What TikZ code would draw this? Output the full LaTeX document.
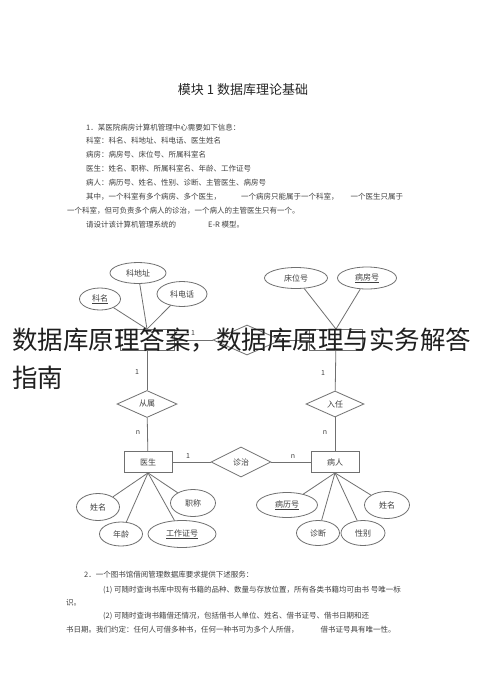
\documentclass[tikz,border=0pt]{standalone}
\usepackage{fontspec}
\setmainfont{Noto Sans CJK SC}
\usetikzlibrary{shapes.geometric}
\definecolor{ln}{HTML}{707070}
\definecolor{tx}{HTML}{404040}
\tikzset{
  body/.style={anchor=west,inner sep=0pt,text=tx,font=\fontsize{7.5}{9}\selectfont},
  attr/.style={ellipse,draw=ln,line width=0.8pt,inner sep=0pt,text=tx,font=\fontsize{8}{9}\selectfont},
  ent/.style={rectangle,draw=ln,line width=0.8pt,inner sep=0pt,minimum width=48pt,minimum height=21pt,text=tx,font=\fontsize{8}{9}\selectfont},
  rel/.style={diamond,draw=ln,line width=0.8pt,inner sep=0pt,text=tx,font=\fontsize{8}{9}\selectfont},
  conn/.style={draw=ln,line width=0.8pt},
  card/.style={inner sep=0pt,text=tx,font=\fontsize{7}{8}\selectfont},
  over/.style={anchor=west,inner sep=0pt,text=black!88,font=\fontsize{25.5}{30}\selectfont}
}
\begin{document}
\begin{tikzpicture}[x=1pt,y=-1pt]
\useasboundingbox[fill=white] (0,0) rectangle (490,697);
% title
\node[inner sep=0pt,text=black!85,font=\fontsize{13}{15}\selectfont] (title) at (243,90) {模块 1 数据库理论基础};
% question 1
\node[body] (q1) at (86,128) {1．某医院病房计算机管理中心需要如下信息：};
\node[body] (q2) at (86,141) {科室：科名、科地址、科电话、医生姓名};
\node[body] (q3) at (86,155) {病房：病房号、床位号、所属科室名};
\node[body] (q4) at (86,169) {医生：姓名、职称、所属科室名、年龄、工作证号};
\node[body] (q5) at (86,183) {病人：病历号、姓名、性别、诊断、主管医生、病房号};
\node[body] (q6) at (86,197) {其中，一个科室有多个病房、多个医生，\hspace{20pt}一个病房只能属于一个科室，\hspace{12pt}一个医生只属于};
\node[body] (q7) at (67,211) {一个科室，但可负责多个病人的诊治，一个病人的主管医生只有一个。};
\node[body] (q8) at (86,225) {请设计该计算机管理系统的\hspace{32pt}E-R 模型。};
% ER diagram: top attributes
\node[attr,minimum width=56pt,minimum height=21pt] (kdz) at (138,273) {科地址};
\node[attr,minimum width=41pt,minimum height=22pt] (km) at (100,299) {\underline{科名}};
\node[attr,minimum width=50pt,minimum height=25pt] (kdh) at (182,294) {科电话};
\node[attr,minimum width=63pt,minimum height=21pt] (cwh) at (296,278) {床位号};
\node[attr,minimum width=59pt,minimum height=22pt] (bfh) at (367,278) {\underline{病房号}};
% entities
\node[ent,minimum width=54pt] (ks) at (147,340) {};
\node[ent,minimum width=53pt] (bf) at (336,340) {};
\node[rel,minimum width=68pt,minimum height=30pt] (ksbf) at (247,340) {};
\node[rel,minimum width=60pt,minimum height=27pt] (cs) at (147,404) {从属};
\node[rel,minimum width=58pt,minimum height=26pt] (rz) at (335,404) {入任};
\node[ent] (ys) at (148,462) {医生};
\node[ent] (br) at (335,462) {病人};
\node[rel,minimum width=60pt,minimum height=30pt] (zz) at (241,462) {诊治};
% bottom attributes
\node[attr,minimum width=43pt,minimum height=27pt] (xm1) at (98,507) {姓名};
\node[attr,minimum width=43pt,minimum height=24pt] (nl) at (121,534) {年龄};
\node[attr,minimum width=68pt,minimum height=27pt] (gzzh) at (182,534) {\underline{工作证号}};
\node[attr,minimum width=45pt,minimum height=27pt] (zc) at (193,503) {职称};
\node[attr,minimum width=61pt,minimum height=25pt] (blh) at (287,505) {\underline{病历号}};
\node[attr,minimum width=43pt,minimum height=25pt] (zd) at (318,533) {诊断};
\node[attr,minimum width=44pt,minimum height=25pt] (xb) at (363,533) {性别};
\node[attr,minimum width=45pt,minimum height=27pt] (xm2) at (387,505) {姓名};
% connectors
\draw[conn] (kdz) -- (ks.north);
\draw[conn] (km) -- (ks.north);
\draw[conn] (kdh) -- (ks.north);
\draw[conn] (cwh) -- (bf.north);
\draw[conn] (bfh) -- (bf.north);
\draw[conn] (ks) -- (ksbf);
\draw[conn] (ksbf) -- (bf);
\draw[conn] (ks) -- (cs);
\draw[conn] (cs) -- (ys);
\draw[conn] (bf) -- (rz);
\draw[conn] (rz) -- (br);
\draw[conn] (ys) -- (zz);
\draw[conn] (zz) -- (br);
\draw[conn] (ys.south) -- (xm1);
\draw[conn] (ys.south) -- (nl);
\draw[conn] (ys.south) -- (gzzh);
\draw[conn] (ys.south) -- (zc);
\draw[conn] (br.south) -- (blh);
\draw[conn] (br.south) -- (zd);
\draw[conn] (br.south) -- (xb);
\draw[conn] (br.south) -- (xm2);
% cardinalities
\node[card] (c1) at (193,333) {1};
\node[card] (c2) at (137,372) {1};
\node[card] (c3) at (323,373) {1};
\node[card] (c4) at (138,433) {n};
\node[card] (c5) at (325,433) {n};
\node[card] (c6) at (188,456) {1};
\node[card] (c7) at (293,457) {n};
% question 2
\node[body] (p1) at (84,575) {2．一个图书馆借阅管理数据库要求提供下述服务：};
\node[body] (p2) at (103,590) {(1) 可随时查询书库中现有书籍的品种、数量与存放位置，所有各类书籍均可由书 号唯一标};
\node[body] (p3) at (66,603) {识。};
\node[body] (p4) at (103,616) {(2) 可随时查询书籍借还情况，包括借书人单位、姓名、借书证号、借书日期和还};
\node[body] (p5) at (66,630) {书日期。我们约定：任何人可借多种书，任何一种书可为多个人所借，\hspace{22pt}借书证号具有唯一性。};
% overlay caption
\node[over] (ov1) at (12,340) {数据库原理答案，数据库原理与实务解答};
\node[over] (ov2) at (12,378) {指南};
\end{tikzpicture}
\end{document}
